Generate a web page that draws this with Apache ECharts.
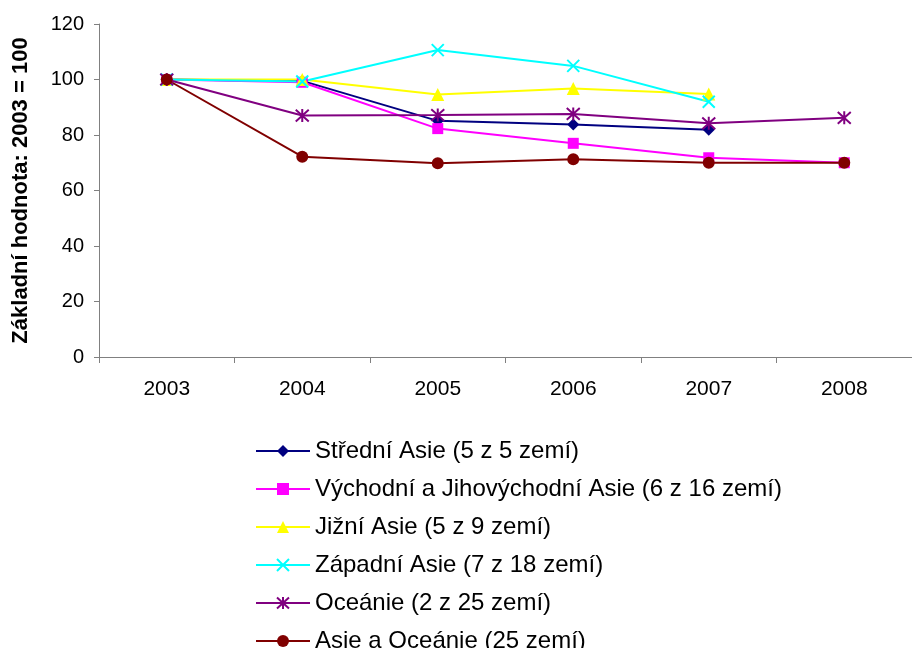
<!DOCTYPE html>
<html>
<head>
<meta charset="utf-8">
<script src="https://cdn.jsdelivr.net/npm/echarts@6/dist/echarts.min.js"></script>
<style>
  html, body { margin: 0; padding: 0; background: #fff; }
  #chart { width: 912px; height: 648px; }
</style>
</head>
<body>
<div id="chart"></div>
<script>
// Regional index, base year 2003 = 100
const years = ['2003', '2004', '2005', '2006', '2007', '2008'];

const stredniAsie   = [100, 99.5, 85.1, 83.8, 81.9, null];
const vychodniAsie  = [100, 99.0, 82.3, 77.0, 71.8, 70.0];
const jizniAsie     = [100, 100, 94.6, 96.8, 94.8, null];
const zapadniAsie   = [100, 99.3, 110.6, 104.9, 92.0, null];
const oceanie       = [100, 87.0, 87.2, 87.6, 84.2, 86.2];
const asieOceanie   = [100, 72.2, 69.8, 71.3, 70.0, 70.0];

const yTicks = { min: 0, max: 120, interval: 20 };
const yTitle = 'Základní hodnota: 2003 = 100';

const crossPath = 'path://M0,0L10,10M10,0L0,10';
const starPath = 'path://M5,0L5,10M0.5,0.5L9.5,9.5M9.5,0.5L0.5,9.5';

function lineSeries(name, data, color, symbol, size, stroked) {
  return {
    name: name,
    type: 'line',
    data: data,
    symbol: symbol,
    symbolSize: size,
    showAllSymbol: true,
    connectNulls: false,
    lineStyle: { color: color, width: 2 },
    itemStyle: stroked
      ? { color: color, borderColor: color, borderWidth: 2 }
      : { color: color, borderWidth: 0 },
    emphasis: { disabled: true },
    animation: false
  };
}

const chart = echarts.init(document.getElementById('chart'), null, { renderer: 'canvas' });

chart.setOption({
  backgroundColor: '#ffffff',
  animation: false,
  grid: { left: 99, top: 24, width: 821, height: 333, containLabel: false },
  xAxis: {
    type: 'category',
    data: years,
    boundaryGap: true,
    axisLine: { lineStyle: { color: '#808080', width: 1 } },
    axisTick: { show: true, length: 6, alignWithLabel: false, lineStyle: { color: '#808080' } },
    axisLabel: { color: '#000', fontFamily: 'Liberation Sans', fontSize: 21, margin: 22 },
    splitLine: { show: false }
  },
  yAxis: {
    type: 'value',
    min: yTicks.min,
    max: yTicks.max,
    interval: yTicks.interval,
    name: yTitle,
    nameLocation: 'middle',
    nameGap: 67,
    nameRotate: 90,
    nameTextStyle: { color: '#000', fontFamily: 'Liberation Sans', fontWeight: 'bold', fontSize: 22 },
    axisLine: { show: true, lineStyle: { color: '#808080', width: 1 } },
    axisTick: { show: true, length: 5, lineStyle: { color: '#808080' } },
    axisLabel: { color: '#000', fontFamily: 'Liberation Sans', fontSize: 20, margin: 15 },
    splitLine: { show: false }
  },
  legend: {
    orient: 'vertical',
    left: 255,
    top: 439,
    height: 240,
    padding: 0,
    itemWidth: 54,
    itemHeight: 15,
    itemGap: 14,
    textStyle: { color: '#000', fontFamily: 'Liberation Sans', fontSize: 24 },
    data: [
      'Střední Asie (5 z 5 zemí)',
      'Východní a Jihovýchodní Asie (6 z 16 zemí)',
      'Jižní Asie (5 z 9 zemí)',
      'Západní Asie (7 z 18 zemí)',
      'Oceánie (2 z 25 zemí)',
      'Asie a Oceánie (25 zemí)'
    ]
  },
  series: [
    lineSeries('Střední Asie (5 z 5 zemí)', stredniAsie, '#000080', 'diamond', 12, false),
    lineSeries('Východní a Jihovýchodní Asie (6 z 16 zemí)', vychodniAsie, '#ff00ff', 'rect', 11, false),
    lineSeries('Jižní Asie (5 z 9 zemí)', jizniAsie, '#ffff00', 'triangle', 13, false),
    lineSeries('Západní Asie (7 z 18 zemí)', zapadniAsie, '#00ffff', crossPath, 12, true),
    lineSeries('Oceánie (2 z 25 zemí)', oceanie, '#800080', starPath, 13, true),
    lineSeries('Asie a Oceánie (25 zemí)', asieOceanie, '#800000', 'circle', 12, false)
  ]
});
</script>
</body>
</html>
